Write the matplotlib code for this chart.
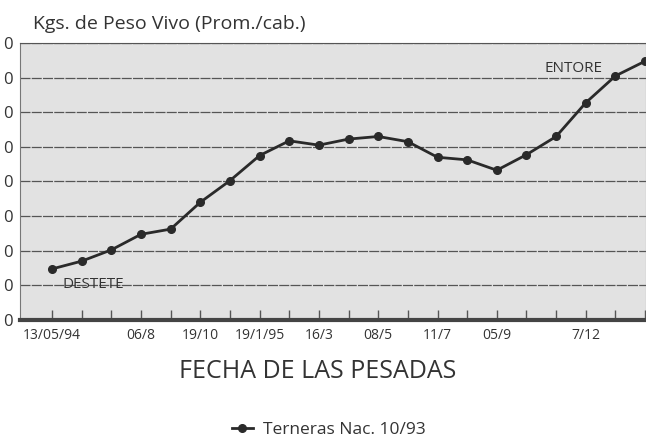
import numpy as np
import matplotlib
matplotlib.use("Agg")
from matplotlib import pyplot as plt

# weights (kg) per weighing
peso = [139, 148, 161, 179, 185, 216, 241, 270, 287, 282, 289,
        292, 286, 268, 265, 253, 271, 292, 331, 362, 379]
fechas = ["13/05/94", "06/8", "19/10", "19/1/95", "16/3", "08/5",
          "11/7", "05/9", "7/12"]
fecha_idx = [0, 3, 5, 7, 9, 11, 13, 15, 18]
y_ticks = [80, 120, 160, 200, 240, 280, 320, 360, 400]
# the scan is cut at the left edge: only the last digit of each label shows
y_labels = ["0"] * 9

plt.rcParams['font.family'] = ['Open Sans', 'DejaVu Sans']

fig = plt.figure(figsize=(6.46, 4.38), dpi=100)
ax = fig.add_axes([20 / 646, 1 - 320 / 438, 626 / 646, 277 / 438])
ax.set_facecolor("#e2e2e2")

x = np.arange(len(peso))
ax.plot(x, peso, color="#2a2a2a", lw=2, marker="o", ms=5.5,
        label="Terneras Nac. 10/93")

ax.set_xlim(-1.08, 20.03)
ax.set_ylim(80, 400)
ax.set_yticks(y_ticks)
ax.set_yticklabels(y_labels, fontsize=12, color="#333333")
ax.tick_params(axis="y", length=0, pad=5)
ax.yaxis.grid(True, color="#555555", lw=0.9, ls=(0, (8, 1)))

ax.set_xticks(x, minor=True)
ax.set_xticks(fecha_idx)
ax.set_xticklabels(fechas, fontsize=10, color="#333333")
ax.tick_params(axis="x", which="both", direction="in", length=7,
               width=1, color="#555555", pad=6)

ax.spines["bottom"].set_linewidth(3)
ax.spines["bottom"].set_color("#444444")
ax.spines["left"].set_color("#777777")
ax.spines["top"].set_color("#555555")
ax.spines["right"].set_color("#777777")

ax.text(0.35, 117, "DESTETE", fontsize=11, color="#333333")
ax.text(16.6, 367, "ENTORE", fontsize=11, color="#333333")

fig.text(33 / 646, 1 - 24 / 438, "Kgs. de Peso Vivo (Prom./cab.)",
         fontsize=14, color="#333333", va="center")
fig.text(318 / 646, 1 - 372 / 438, "FECHA DE LAS PESADAS",
         fontsize=18, color="#333333", ha="center", va="center")

fig.legend(loc="center", bbox_to_anchor=(329 / 646, 1 - 430 / 438),
           frameon=False, fontsize=12.5, handlelength=1.2,
           handletextpad=0.6, labelcolor="#333333")

fig.savefig("out.png", dpi=100)
